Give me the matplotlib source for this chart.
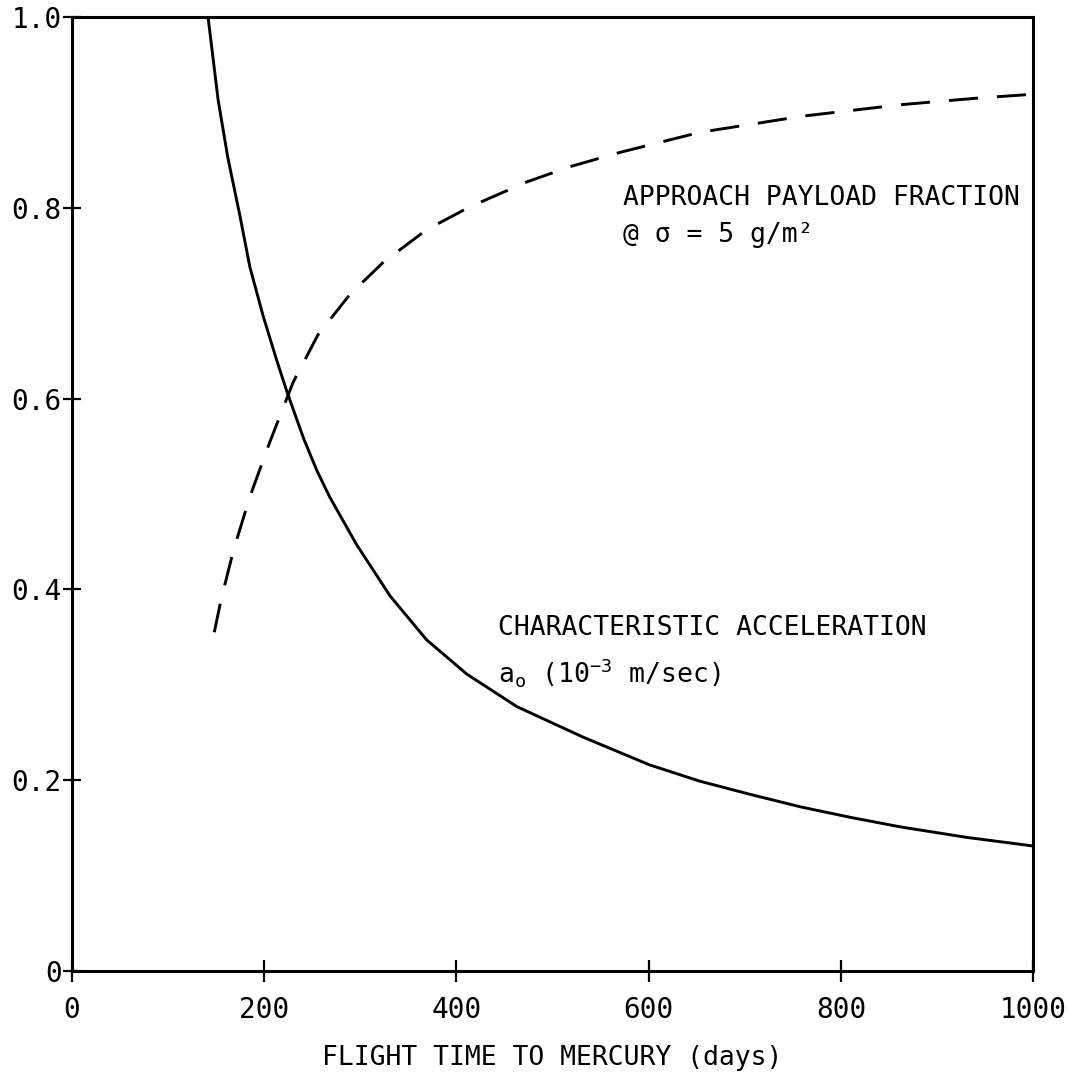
import matplotlib
matplotlib.use("Agg")
import matplotlib.pyplot as plt

plt.rcParams["font.family"] = ["DejaVu Sans Mono", "DejaVu Sans"]
plt.rcParams["mathtext.fontset"] = "custom"
plt.rcParams["mathtext.rm"] = "DejaVu Sans Mono"
plt.rcParams["mathtext.it"] = "DejaVu Sans Mono"

# characteristic acceleration a_o (solid)
accel_days = [141.5, 152, 162, 175, 185, 199, 213, 224, 241, 255, 268, 296, 331,
              369, 411, 463, 532, 601, 653, 706, 758, 810, 862, 931, 1000]
accel_vals = [1.0, 0.913, 0.853, 0.790, 0.738, 0.686, 0.640, 0.606, 0.558, 0.524,
              0.497, 0.447, 0.393, 0.347, 0.311, 0.277, 0.245, 0.216, 0.199,
              0.185, 0.172, 0.161, 0.151, 0.140, 0.131]

# approach payload fraction (dashed)
payload_days = [148, 155, 168, 185, 206, 230, 256, 289, 324, 369, 414, 473,
                518, 570, 653, 760, 862, 943, 1000]
payload_vals = [0.355, 0.389, 0.441, 0.497, 0.555, 0.617, 0.667, 0.709, 0.743,
                0.777, 0.801, 0.827, 0.843, 0.858, 0.879, 0.896, 0.908, 0.915, 0.919]

x_ticks = [0, 200, 400, 600, 800, 1000]
y_ticks = [0, 0.2, 0.4, 0.6, 0.8, 1.0]
y_tick_labels = ["0", "0.2", "0.4", "0.6", "0.8", "1.0"]

fig = plt.figure(figsize=(10.69, 10.73), dpi=100)
ax = fig.add_axes([0.0674, 0.0951, 0.8990, 0.8891])

ax.plot(accel_days, accel_vals, color="black", lw=2.1, solid_joinstyle="round")
ax.plot(payload_days, payload_vals, color="black", lw=2.1, dashes=(10, 6.5))

ax.set_xlim(0, 1000)
ax.set_ylim(0, 1.0)
ax.set_xticks(x_ticks)
ax.set_xticklabels([str(v) for v in x_ticks])
ax.set_yticks(y_ticks)
ax.set_yticklabels(y_tick_labels)

for s in ax.spines.values():
    s.set_linewidth(2.2)

ax.tick_params(axis="x", direction="inout", length=16, width=1.6, pad=10,
               labelsize=20)
ax.tick_params(axis="y", direction="inout", length=13, width=1.6, pad=1,
               labelsize=20)

ax.set_xlabel("FLIGHT TIME TO MERCURY (days)", fontsize=19, labelpad=15)

ax.text(573, 0.803, "APPROACH PAYLOAD FRACTION", fontsize=19)
ax.text(573, 0.764, "@ σ = 5 g/m²", fontsize=19)
ax.text(443, 0.352, "CHARACTERISTIC ACCELERATION", fontsize=19)
ax.text(443, 0.302, r"a$_\mathrm{o}$ (10$^{\mathrm{-3}}$ m/sec)", fontsize=19)

fig.savefig("out.png", dpi=100)
